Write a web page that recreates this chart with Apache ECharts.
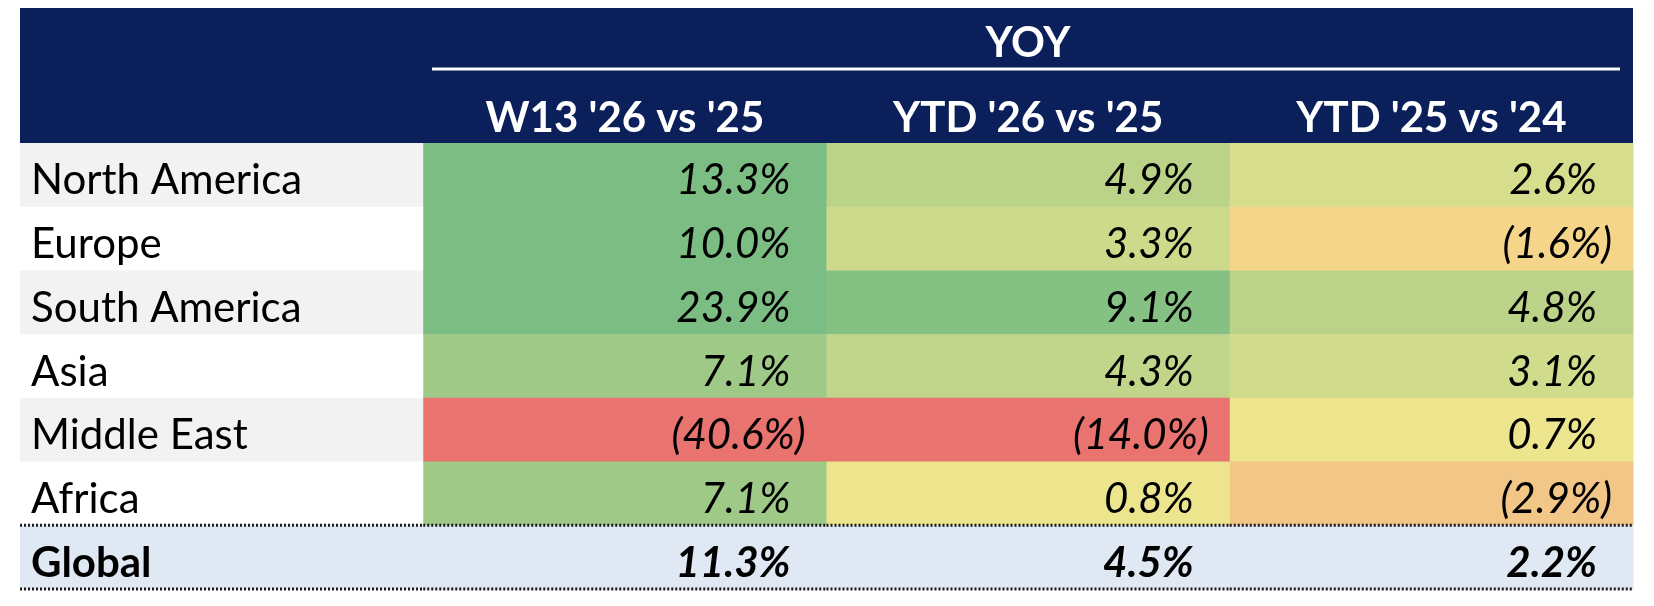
<!DOCTYPE html>
<html lang="en">
<head>
<meta charset="UTF-8">
<title>YOY</title>
<script src="https://cdn.jsdelivr.net/npm/echarts@6/dist/echarts.min.js"></script>
<style>
    html, body { margin: 0; padding: 0; background: #fff; }
    #yoy-table { width: 1654px; height: 606px; }
</style>
</head>
<body>
<div id="yoy-table"></div>
<script>
// 表格数据
const groupTitle = 'YOY';
const columns = ["W13 '26 vs '25", "YTD '26 vs '25", "YTD '25 vs '24"];
const regions = ['North America', 'Europe', 'South America', 'Asia', 'Middle East', 'Africa'];
const totalLabel = 'Global';
const w13Values = [13.3, 10.0, 23.9, 7.1, -40.6, 7.1];
const ytd26Values = [4.9, 3.3, 9.1, 4.3, -14.0, 0.8];
const ytd25Values = [2.6, -1.6, 4.8, 3.1, 0.7, -2.9];
const globalValues = [11.3, 4.5, 2.2];

document.addEventListener('DOMContentLoaded', () => {
    const chart = echarts.init(document.getElementById('yoy-table'));

    const FONT = 'Lato, "Open Sans", sans-serif';
    const FONT_SIZE = 42;
    const NAVY = '#0b1f5b';
    const TOTAL_BG = '#dfe8f3';
    const TEXT_DY = 6;   // Excel 单元格文字偏下

    const rows = regions.concat([totalLabel]);
    const totalRow = rows.length - 1;

    // 负数用括号表示
    const fmt = v => v < 0 ? '(' + Math.abs(v).toFixed(1) + '%)' : v.toFixed(1) + '%';

    // 组装各系列数据
    const labelData = rows.map((name, r) => [0, r]);
    const heatData = [];
    [w13Values, ytd26Values, ytd25Values].forEach((vals, c) => {
        vals.forEach((v, r) => heatData.push([c + 1, r, v]));
    });
    const totalData = globalValues.map((v, c) => [c + 1, totalRow, v]);

    // 根据坐标轴计算单元格矩形
    const cellRect = api => {
        const center = api.coord([api.value(0), api.value(1)]);
        const size = api.size([1, 1]);
        return {
            x: center[0] - size[0] / 2,
            y: center[1] - size[1] / 2,
            w: size[0],
            h: size[1],
            cy: center[1]
        };
    };

    // 合计行的上下虚线
    const dottedLines = r => [r.y, r.y + r.h].map(y => ({
        type: 'line',
        shape: { x1: r.x, y1: y, x2: r.x + r.w + 0.5, y2: y },
        style: { stroke: '#1a1a1a', lineWidth: 3, lineDash: [2, 2] },
        z2: 10
    }));

    const valueText = (r, v, bold) => ({
        type: 'text',
        style: {
            text: fmt(v),
            x: r.x + r.w - (v < 0 ? 21 : 36),
            y: r.cy + TEXT_DY,
            align: 'right',
            verticalAlign: 'middle',
            fontFamily: FONT,
            fontSize: FONT_SIZE,
            fontStyle: 'italic',
            fontWeight: bold ? 'bold' : 'normal',
            fill: '#000'
        },
        z2: 5
    });

    const option = {
        animation: false,
        grid: { left: 20, right: 21, top: 143, bottom: 17 },
        xAxis: {
            type: 'category',
            position: 'top',
            data: [''].concat(columns),
            z: 5,
            axisLine: { show: false },
            axisTick: { show: false },
            splitLine: { show: false },
            axisLabel: {
                interval: 0,
                margin: 25,
                verticalAlign: 'middle',
                color: '#fff',
                fontFamily: FONT,
                fontSize: FONT_SIZE,
                fontWeight: 'bold'
            }
        },
        yAxis: {
            type: 'category',
            data: rows,
            inverse: true,
            show: false
        },
        // 按数值着色：红 - 黄 - 绿
        visualMap: {
            show: false,
            type: 'continuous',
            seriesIndex: 1,
            dimension: 2,
            min: -10,
            max: 10,
            inRange: { color: ['#e8736f', '#f6e88f', '#7bbd83'] }
        },
        // 表头
        graphic: [
            {
                type: 'rect',
                z: -1,
                shape: { x: 20, y: 8, width: 1613, height: 135 },
                style: { fill: NAVY }
            },
            {
                type: 'text',
                z: 1,
                style: {
                    text: groupTitle,
                    x: 1028,
                    y: 43,
                    align: 'center',
                    verticalAlign: 'middle',
                    fontFamily: FONT,
                    fontSize: FONT_SIZE,
                    fontWeight: 'bold',
                    fill: '#fff'
                }
            },
            {
                type: 'line',
                z: 1,
                shape: { x1: 432, y1: 69, x2: 1620, y2: 69 },
                style: { stroke: '#fff', lineWidth: 3 }
            }
        ],
        series: [
            {
                // 地区名称列
                type: 'custom',
                data: labelData,
                renderItem: (params, api) => {
                    const r = cellRect(api);
                    const row = api.value(1);
                    const isTotal = row === totalRow;
                    const fill = isTotal ? TOTAL_BG : (row % 2 === 0 ? '#f2f2f2' : '#ffffff');
                    const children = [
                        {
                            type: 'rect',
                            shape: { x: r.x, y: r.y, width: r.w + 0.5, height: r.h + 0.5 },
                            style: { fill: fill }
                        },
                        {
                            type: 'text',
                            style: {
                                text: rows[row],
                                x: r.x + 11,
                                y: r.cy + TEXT_DY,
                                align: 'left',
                                verticalAlign: 'middle',
                                fontFamily: FONT,
                                fontSize: FONT_SIZE,
                                fontWeight: isTotal ? 'bold' : 'normal',
                                fill: '#000'
                            },
                            z2: 5
                        }
                    ];
                    return {
                        type: 'group',
                        children: isTotal ? children.concat(dottedLines(r)) : children
                    };
                }
            },
            {
                // 热力单元格
                type: 'custom',
                data: heatData,
                renderItem: (params, api) => {
                    const r = cellRect(api);
                    return {
                        type: 'group',
                        children: [
                            {
                                type: 'rect',
                                shape: { x: r.x, y: r.y, width: r.w + 0.5, height: r.h + 0.5 },
                                style: { fill: api.visual('color') }
                            },
                            valueText(r, api.value(2), false)
                        ]
                    };
                }
            },
            {
                // 合计行
                type: 'custom',
                data: totalData,
                renderItem: (params, api) => {
                    const r = cellRect(api);
                    return {
                        type: 'group',
                        children: [
                            {
                                type: 'rect',
                                shape: { x: r.x, y: r.y, width: r.w + 0.5, height: r.h + 0.5 },
                                style: { fill: TOTAL_BG }
                            },
                            valueText(r, api.value(2), true)
                        ].concat(dottedLines(r))
                    };
                }
            }
        ]
    };

    chart.setOption(option);

    window.addEventListener('resize', () => {
        chart.resize();
    });
});
</script>
</body>
</html>
